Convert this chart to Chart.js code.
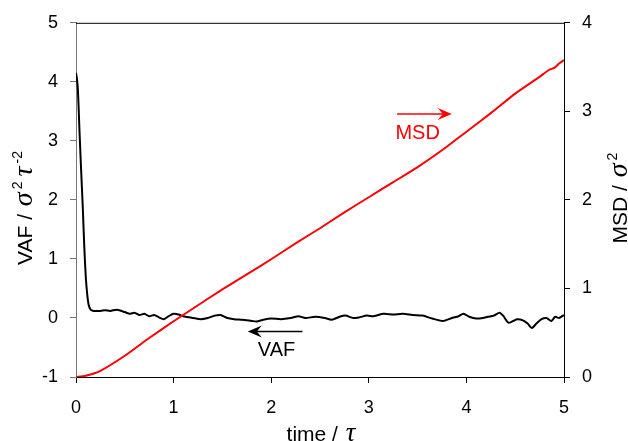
<!DOCTYPE html>
<html>
<head>
<meta charset="utf-8">
<script src="https://cdn.jsdelivr.net/npm/chart.js@4"></script>
<style>
  html, body { margin: 0; padding: 0; background: #fff; }
  #wrap { width: 628px; height: 441px; }
</style>
</head>
<body>
<div id="wrap"><canvas id="chart" width="628" height="441"></canvas></div>
<script>
// VAF (left axis)
const vafTime = [0, 0.01, 0.02, 0.035, 0.05, 0.07, 0.085, 0.1, 0.115, 0.13, 0.15, 0.18, 0.25, 0.3, 0.35, 0.42,
  0.5, 0.55, 0.6, 0.65, 0.7, 0.75, 0.8, 0.85, 0.9, 0.95, 1.0, 1.05, 1.1, 1.2, 1.28, 1.35, 1.42, 1.48,
  1.55, 1.62, 1.7, 1.8, 1.85, 1.92, 2.0, 2.1, 2.2, 2.28, 2.35, 2.45, 2.55, 2.62, 2.7, 2.76, 2.84, 2.9,
  2.98, 3.05, 3.15, 3.25, 3.35, 3.45, 3.55, 3.65, 3.76, 3.85, 3.92, 3.97, 4.03, 4.1, 4.17, 4.22, 4.28,
  4.34, 4.38, 4.43, 4.48, 4.52, 4.58, 4.63, 4.67, 4.72, 4.77, 4.82, 4.87, 4.91, 4.95, 5.0];
const vafValues = [4.15, 4.05, 3.85, 3.2, 2.6, 1.85, 1.2, 0.7, 0.4, 0.22, 0.14, 0.12, 0.12, 0.13, 0.12, 0.14,
  0.1, 0.07, 0.09, 0.05, 0.07, 0.03, 0.05, 0.01, -0.02, 0.03, 0.07, 0.06, 0.03, 0.0, -0.02, 0.0, 0.04, 0.05,
  0.0, -0.02, -0.03, -0.05, -0.06, -0.03, -0.01, -0.02, 0.0, 0.03, 0.0, 0.02, 0.0, -0.03, 0.02, 0.04, 0.0, 0.01,
  0.04, 0.03, 0.07, 0.06, 0.07, 0.05, 0.04, -0.01, -0.05, 0.0, 0.03, 0.07, 0.02, -0.01, 0.0, 0.02, 0.04,
  0.09, 0.03, -0.08, -0.05, -0.02, -0.04, -0.1, -0.17, -0.09, -0.02, 0.0, -0.05, 0.02, 0.0, 0.05];

// MSD (right axis)
const msdTime = [0, 0.1, 0.25, 0.5, 0.75, 1.0, 1.25, 1.5, 1.75, 2.0, 2.25, 2.5, 2.75, 3.0, 3.25, 3.5,
  3.75, 4.0, 4.25, 4.5, 4.75, 4.85, 4.9, 4.95, 5.0];
const msdValues = [0, 0.015, 0.07, 0.24, 0.44, 0.63, 0.81, 0.99, 1.16, 1.33, 1.51, 1.68, 1.86, 2.03, 2.2, 2.37,
  2.56, 2.77, 2.98, 3.2, 3.39, 3.47, 3.49, 3.54, 3.58];

const xTicks = [0, 1, 2, 3, 4, 5];
const vafTicks = [-1, 0, 1, 2, 3, 4, 5];
const msdTicks = [0, 1, 2, 3, 4];

const SANS = '"Liberation Sans", Arial, sans-serif';
const GREEK = '"Liberation Serif", "Times New Roman", serif';

function toPoints(xs, ys) {
  return xs.map((x, i) => ({ x, y: ys[i] }));
}

// draws a run of text pieces (some raised) along one baseline, centred on cx
function drawRich(ctx, segs, cx, cy, angle, color) {
  ctx.save();
  ctx.translate(cx, cy);
  ctx.rotate(angle);
  ctx.fillStyle = color;
  ctx.textBaseline = 'alphabetic';
  ctx.textAlign = 'left';
  let total = 0;
  for (const s of segs) {
    ctx.font = s.font;
    total += (s.gap || 0) + ctx.measureText(s.text).width;
  }
  let pos = -total / 2;
  for (const s of segs) {
    ctx.font = s.font;
    pos += s.gap || 0;
    ctx.fillText(s.text, pos, -(s.raise || 0));
    pos += ctx.measureText(s.text).width;
  }
  ctx.restore();
}

function arrow(ctx, x1, x2, y, color) {
  const dir = x2 > x1 ? 1 : -1;
  ctx.save();
  ctx.strokeStyle = color;
  ctx.fillStyle = color;
  ctx.lineWidth = 1.5;
  ctx.beginPath();
  ctx.moveTo(x1, y);
  ctx.lineTo(x2 - dir * 6, y);
  ctx.stroke();
  ctx.beginPath();
  ctx.moveTo(x2, y);
  ctx.lineTo(x2 - dir * 14, y - 6);
  ctx.lineTo(x2 - dir * 9, y);
  ctx.lineTo(x2 - dir * 14, y + 6);
  ctx.closePath();
  ctx.fill();
  ctx.restore();
}

const extras = {
  id: 'extras',
  afterDatasetsDraw(chart) {
    const { ctx, scales: { x, y, y1 }, chartArea } = chart;
    // top frame line
    ctx.save();
    ctx.strokeStyle = '#000';
    ctx.lineWidth = 1;
    ctx.beginPath();
    ctx.moveTo(chartArea.left, chartArea.top + 0.5);
    ctx.lineTo(chartArea.right, chartArea.top + 0.5);
    ctx.stroke();
    ctx.restore();

    // MSD label + arrow
    arrow(ctx, x.getPixelForValue(3.29), x.getPixelForValue(3.85), y1.getPixelForValue(2.97), '#ff0000');
    ctx.save();
    ctx.font = '20px ' + SANS;
    ctx.fillStyle = '#ff0000';
    ctx.textAlign = 'center';
    ctx.textBaseline = 'middle';
    ctx.fillText('MSD', x.getPixelForValue(3.5), y1.getPixelForValue(2.75));
    // VAF label + arrow
    ctx.fillStyle = '#000';
    ctx.fillText('VAF', x.getPixelForValue(2.055), y.getPixelForValue(-0.55));
    ctx.restore();
    arrow(ctx, x.getPixelForValue(2.32), x.getPixelForValue(1.76), y.getPixelForValue(-0.23), '#000');

    // axis titles
    drawRich(ctx, [
      { text: 'VAF / ', font: '21px ' + SANS },
      { text: 'σ', font: 'italic 28px ' + GREEK, gap: 2 },
      { text: '2', font: '14px ' + SANS, raise: 10, gap: 3 },
      { text: 'τ', font: 'italic 28px ' + GREEK, gap: 5 },
      { text: '-2', font: '14px ' + SANS, raise: 10, gap: 3 }
    ], 32, 208, -Math.PI / 2, '#000');
    drawRich(ctx, [
      { text: 'MSD / ', font: '21px ' + SANS },
      { text: 'σ', font: 'italic 28px ' + GREEK, gap: 2 },
      { text: '2', font: '14px ' + SANS, raise: 10, gap: 3 }
    ], 627, 198, -Math.PI / 2, '#000');
    drawRich(ctx, [
      { text: 'time / ', font: '21px ' + SANS },
      { text: 'τ', font: 'italic 27px ' + GREEK, gap: 2 }
    ], 321, 441, 0, '#000');
  }
};

const tickFont = { family: SANS, size: 18 };

new Chart(document.getElementById('chart').getContext('2d'), {
  type: 'line',
  data: {
    datasets: [
      {
        label: 'VAF',
        data: toPoints(vafTime, vafValues),
        yAxisID: 'y',
        borderColor: '#000',
        borderWidth: 2,
        pointRadius: 0,
        tension: 0.25,
        order: 2
      },
      {
        label: 'MSD',
        data: toPoints(msdTime, msdValues),
        yAxisID: 'y1',
        borderColor: '#ff0000',
        borderWidth: 2,
        pointRadius: 0,
        tension: 0.2,
        order: 1
      }
    ]
  },
  options: {
    responsive: false,
    animation: false,
    layout: { padding: { top: 21, left: 0, right: 0, bottom: 0 } },
    plugins: { legend: { display: false }, tooltip: { enabled: false } },
    scales: {
      x: {
        type: 'linear',
        min: 0,
        max: 5,
        afterFit: s => { s.height = 64; },
        afterBuildTicks: s => { s.ticks = xTicks.map(v => ({ value: v })); },
        ticks: { color: '#000', font: tickFont, padding: 14, maxRotation: 0 },
        grid: { drawOnChartArea: false, tickLength: 6, color: '#000' },
        border: { color: '#000', width: 1 }
      },
      y: {
        position: 'left',
        min: -1,
        max: 5,
        afterFit: s => { s.width = 76; },
        afterBuildTicks: s => { s.ticks = vafTicks.map(v => ({ value: v })); },
        ticks: { color: '#000', font: tickFont, padding: 12 },
        grid: { drawOnChartArea: false, tickLength: 6, color: '#777' },
        border: { color: '#777', width: 1 }
      },
      y1: {
        position: 'right',
        min: 0,
        max: 4,
        afterFit: s => { s.width = 64; },
        afterBuildTicks: s => { s.ticks = msdTicks.map(v => ({ value: v })); },
        ticks: { color: '#000', font: tickFont, padding: 12 },
        grid: { drawOnChartArea: false, tickLength: 6, color: '#000' },
        border: { color: '#000', width: 1 }
      }
    }
  },
  plugins: [extras]
});
</script>
</body>
</html>
